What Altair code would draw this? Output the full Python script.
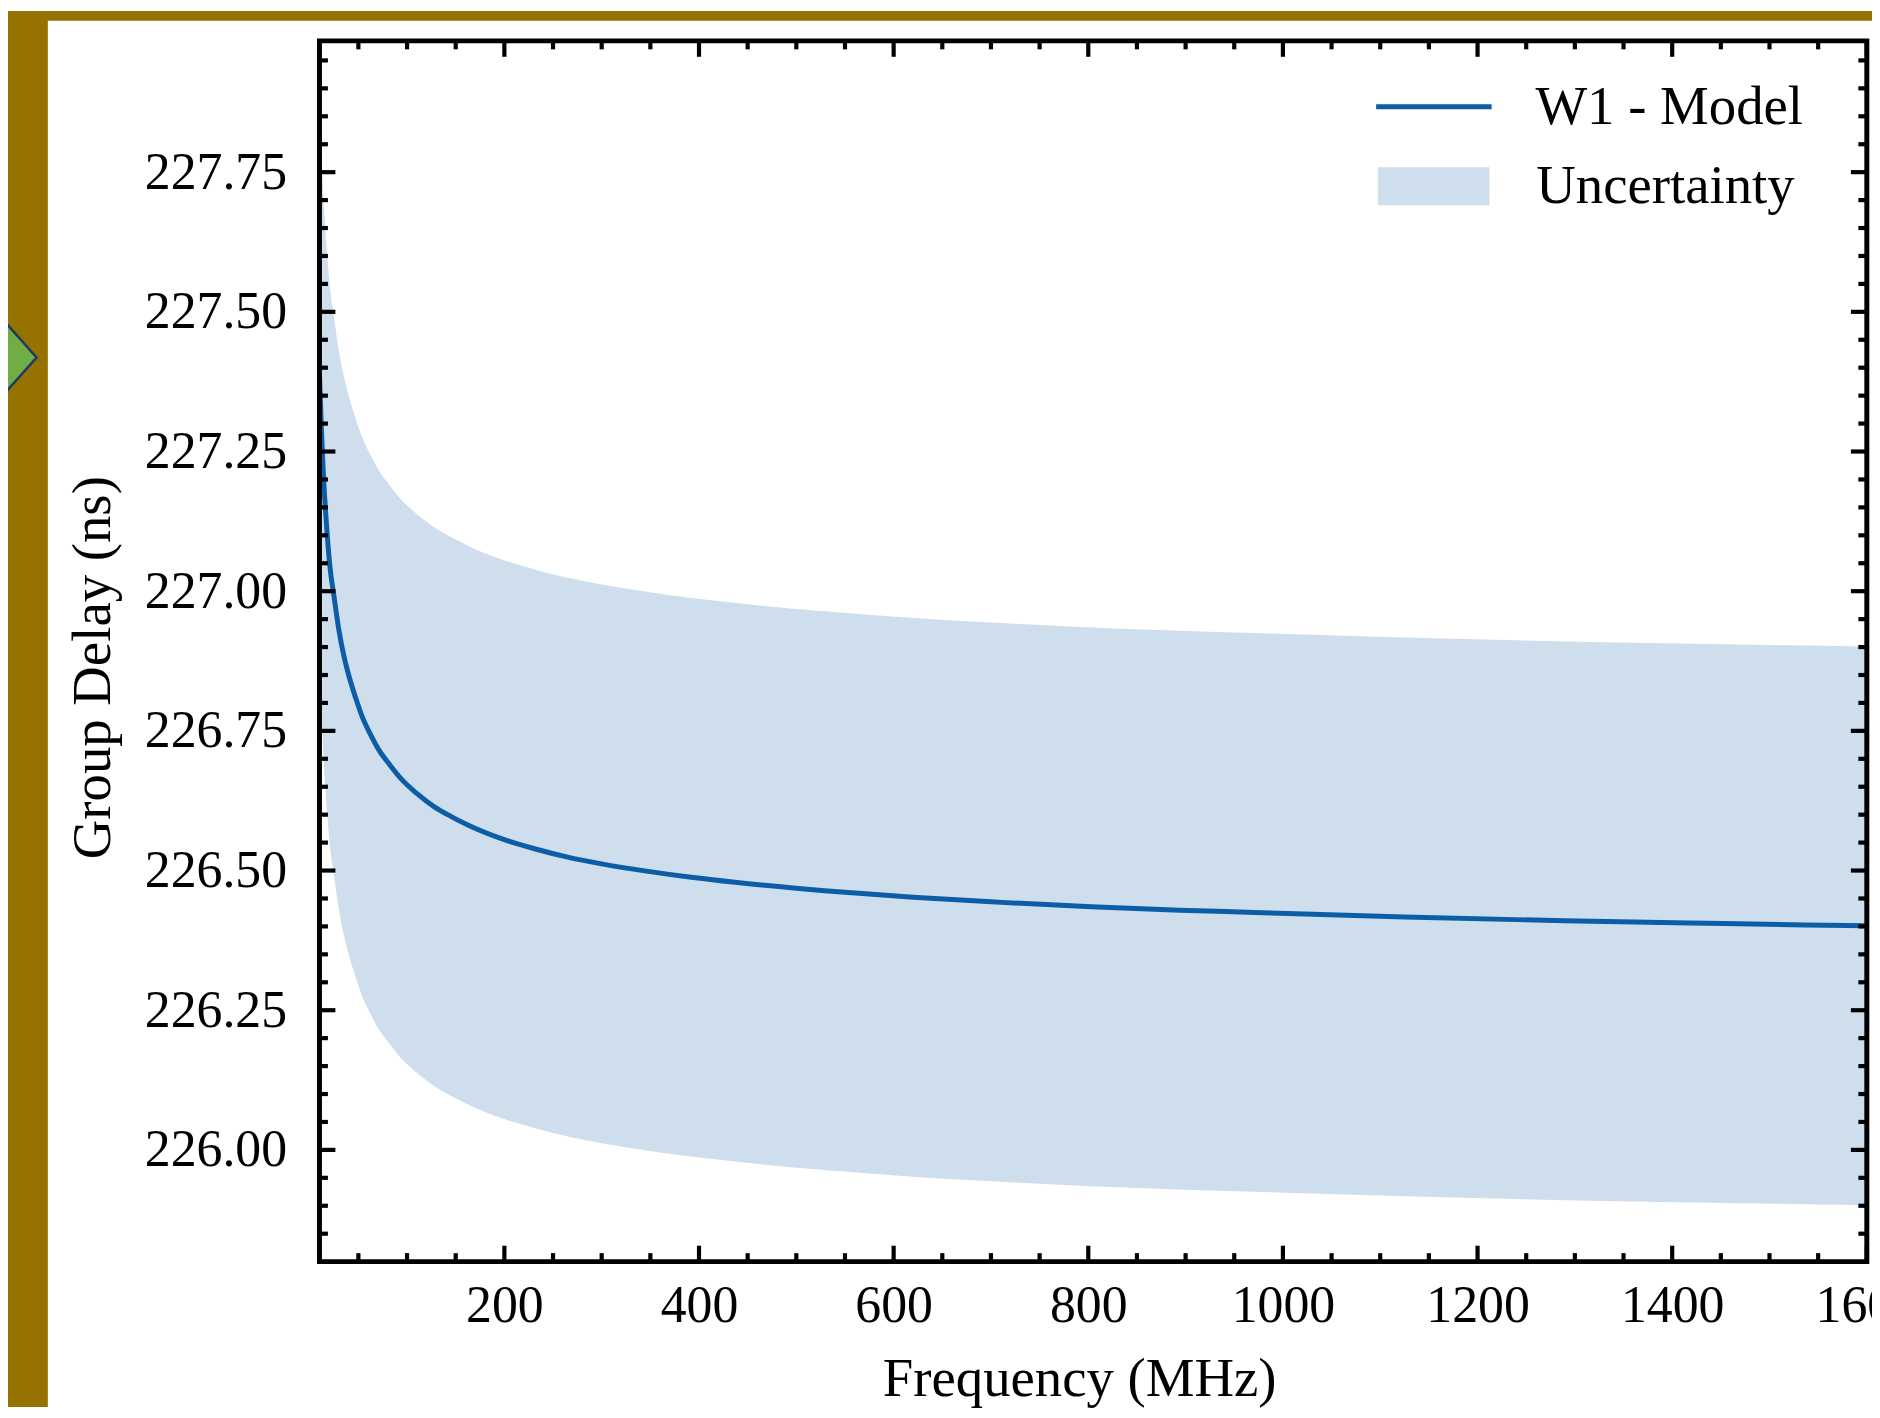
import altair as alt
import pandas as pd

# ---- data ----
freq = [10, 12, 14, 16, 18, 21, 25, 30, 35, 40, 47, 54, 62, 71, 82, 94, 110, 128, 145, 163,
        197, 231, 265, 300, 346, 392, 437, 529, 620, 711, 803, 894, 971, 1125, 1290, 1454, 1600]
model = [227.39, 227.29, 227.21, 227.15, 227.10, 227.04, 226.99, 226.93, 226.885, 226.85,
         226.81, 226.775, 226.745, 226.716, 226.69, 226.664, 226.638, 226.614, 226.597, 226.581,
         226.557, 226.539, 226.524, 226.512, 226.499, 226.488, 226.479, 226.464, 226.452, 226.443,
         226.435, 226.429, 226.425, 226.417, 226.410, 226.405, 226.401]
upper = [227.89, 227.79, 227.71, 227.65, 227.60, 227.54, 227.49, 227.43, 227.385, 227.35,
         227.31, 227.275, 227.245, 227.216, 227.19, 227.164, 227.138, 227.114, 227.097, 227.081,
         227.057, 227.039, 227.024, 227.012, 226.999, 226.988, 226.979, 226.964, 226.952, 226.943,
         226.935, 226.929, 226.925, 226.917, 226.910, 226.905, 226.901]
lower = [226.89, 226.79, 226.71, 226.65, 226.60, 226.54, 226.49, 226.43, 226.385, 226.35,
         226.31, 226.275, 226.245, 226.216, 226.19, 226.164, 226.138, 226.114, 226.097, 226.081,
         226.057, 226.039, 226.024, 226.012, 225.999, 225.988, 225.979, 225.964, 225.952, 225.943,
         225.935, 225.929, 225.925, 225.917, 225.910, 225.905, 225.901]

x_major = [200, 400, 600, 800, 1000, 1200, 1400, 1600]
x_minor = [50, 100, 150, 250, 300, 350, 450, 500, 550, 650, 700, 750, 850, 900, 950,
           1050, 1100, 1150, 1250, 1300, 1350, 1450, 1500, 1550]
y_major = [226.00, 226.25, 226.50, 226.75, 227.00, 227.25, 227.50, 227.75]
y_minor = [225.85, 225.90, 225.95, 226.05, 226.10, 226.15, 226.20, 226.30, 226.35, 226.40,
           226.45, 226.55, 226.60, 226.65, 226.70, 226.80, 226.85, 226.90, 226.95, 227.05,
           227.10, 227.15, 227.20, 227.30, 227.35, 227.40, 227.45, 227.55, 227.60, 227.65,
           227.70, 227.80, 227.85, 227.90, 227.95]

series_names = ["W1 - Model", "Uncertainty"]

# ---- styling ----
W, H = 1554, 1226
PAD = {"left": 312.8, "top": 30, "right": 5.2, "bottom": 146}
FONT = "Liberation Serif"
BLUE = "#0C5DA5"
BAND = "#CFDEED"
GOLD = "#967200"
MAJ, MIN, TW = 16, 8.5, 4.2
LW = 5

df = pd.DataFrame({"freq": freq, "model": model, "upper": upper, "lower": lower,
                   "series": series_names[0], "band": series_names[1]})
one = pd.DataFrame({"a": [0]})

xscale = alt.Scale(domain=[10, 1600], nice=False, zero=False)
yscale = alt.Scale(domain=[225.80, 227.985], nice=False, zero=False)

xaxis = alt.Axis(values=x_major, format="d", ticks=False, tickSize=0, domain=False, grid=False,
                 labelFont=FONT, labelFontSize=52, labelColor="black", labelPadding=19,
                 labelFlush=False, labelOverlap=False, labelBaseline="top",
                 title="Frequency (MHz)", titleFont=FONT, titleFontSize=55,
                 titleFontWeight="normal", titleColor="black", titleX=763, titleY=134,
                 titleAlign="center", titleBaseline="alphabetic")
yaxis = alt.Axis(values=y_major, format=".2f", ticks=False, tickSize=0, domain=False, grid=False,
                 labelFont=FONT, labelFontSize=52, labelColor="black", labelPadding=33,
                 labelFlush=False, labelOverlap=False, labelAlign="right", labelBaseline="middle",
                 title="Group Delay (ns)", titleFont=FONT, titleFontSize=55,
                 titleFontWeight="normal", titleColor="black", titleAngle=270,
                 titleX=-211, titleY=629, titleAlign="center", titleBaseline="alphabetic")

band = alt.Chart(df).mark_area(opacity=1, interpolate="monotone").encode(
    x=alt.X("freq:Q", scale=xscale, axis=xaxis),
    y=alt.Y("lower:Q", scale=yscale, axis=yaxis),
    y2="upper:Q",
    fill=alt.Fill("band:N", scale=alt.Scale(domain=[series_names[1]], range=[BAND]),
                  legend=alt.Legend(orient="none", legendX=1063, legendY=90, title=None,
                                    symbolType="M-1,-0.34L1,-0.34L1,0.34L-1,0.34Z",
                                    symbolSize=12544, symbolStrokeWidth=0, symbolOpacity=1,
                                    labelFont=FONT, labelFontSize=55, labelColor="black",
                                    labelLimit=800, labelOffset=47, padding=0, offset=0)),
)

line = alt.Chart(df).mark_line(strokeWidth=LW, interpolate="monotone").encode(
    x=alt.X("freq:Q", scale=xscale, axis=xaxis),
    y=alt.Y("model:Q", scale=yscale, axis=yaxis),
    stroke=alt.Stroke("series:N", scale=alt.Scale(domain=[series_names[0]], range=[BLUE]),
                      legend=alt.Legend(orient="none", legendX=1058.7, legendY=5.7, title=None,
                                        symbolType="stroke", symbolSize=13456,
                                        symbolStrokeWidth=LW, labelFont=FONT,
                                        labelFontSize=55, labelColor="black", labelLimit=800,
                                        labelOffset=41.5, padding=0, offset=0)),
)


def xticks(vals, y0, y1):
    return alt.Chart(pd.DataFrame({"freq": vals})).mark_rule(
        color="black", strokeWidth=TW, strokeCap="butt").encode(
        x=alt.X("freq:Q", scale=xscale, axis=xaxis), y=alt.value(y0), y2=alt.value(y1))


def yticks(vals, x0, x1):
    return alt.Chart(pd.DataFrame({"lower": vals})).mark_rule(
        color="black", strokeWidth=TW, strokeCap="butt").encode(
        y=alt.Y("lower:Q", scale=yscale, axis=yaxis), x=alt.value(x0), x2=alt.value(x1))


tick_layers = [
    xticks(x_major, H, H - MAJ), xticks(x_minor, H, H - MIN),
    xticks(x_major, 0, MAJ), xticks(x_minor, 0, MIN),
    yticks(y_major, 0, MAJ), yticks(y_minor, 0, MIN),
    yticks(y_major, W, W - MAJ), yticks(y_minor, W, W - MIN),
]

spine = alt.Chart(one).mark_rect(fillOpacity=0, stroke="black", strokeWidth=5).encode(
    x=alt.value(0), x2=alt.value(W), y=alt.value(0), y2=alt.value(H))

gold_left = alt.Chart(one).mark_rect(color=GOLD).encode(
    x=alt.value(-PAD["left"]), x2=alt.value(-PAD["left"] + 40),
    y=alt.value(-PAD["top"]), y2=alt.value(H + PAD["bottom"]))
gold_top = alt.Chart(one).mark_rect(color=GOLD).encode(
    x=alt.value(-PAD["left"]), x2=alt.value(W + PAD["right"]),
    y=alt.value(-PAD["top"]), y2=alt.value(-PAD["top"] + 9.7))
diamond = alt.Chart(one).mark_point(
    shape="M0,-1L0.89,0L0,1L-0.89,0Z", filled=True, fill="#70AD47", stroke="#1F3864",
    strokeWidth=2.5, opacity=1, size=27556).encode(x=alt.value(-358), y=alt.value(318))

chart = alt.layer(gold_left, gold_top, diamond, band, line, *tick_layers, spine).properties(
    width=W, height=H, padding=PAD, autosize=alt.AutoSizeParams(type="none"),
    background="white",
).configure_view(strokeWidth=0)

chart.save("out.html", embed_options={"renderer": "svg", "actions": False})
